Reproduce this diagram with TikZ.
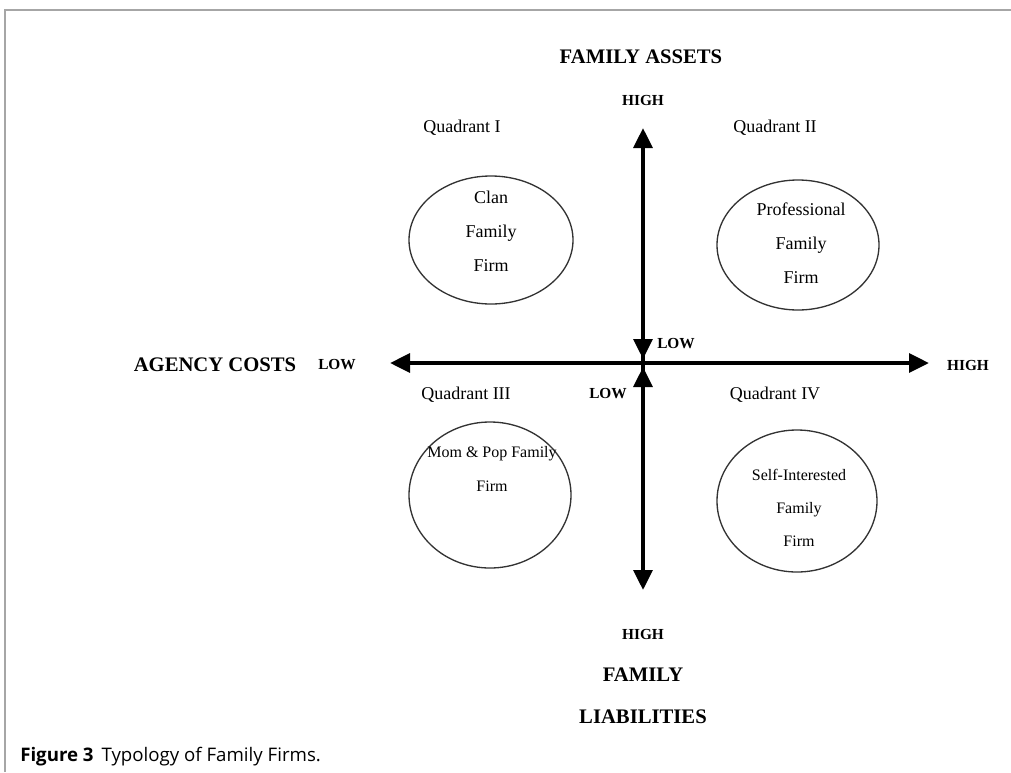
\documentclass[tikz,border=0pt]{standalone}
\usepackage{fontspec}
\setmainfont{Liberation Serif}
\newfontfamily\capfont{Open Sans}
\usetikzlibrary{arrows.meta,positioning,shapes.geometric}

\begin{document}
\begin{tikzpicture}[x=0.75pt,y=-0.75pt,
    axis/.style={line width=3pt,-{Triangle[length=15pt,width=14pt]}},
    firm/.style={ellipse,draw=black!80,line width=1pt,inner sep=0pt},
    title/.style={font=\fontsize{15.5}{18}\bfseries\selectfont},
    level/.style={font=\fontsize{11.5}{14}\bfseries\selectfont},
    quad/.style={font=\fontsize{13.5}{16}\selectfont},
    big/.style={font=\fontsize{13.5}{25.5}\selectfont,align=center},
    small/.style={font=\fontsize{12}{25}\selectfont,align=center}]
  \useasboundingbox (0,0) rectangle (1011,772);
  % frame
  \draw[gray!70,line width=1.5pt] (5,772) -- (5,10) -- (1011,10);

  % axes
  \coordinate (o) at (643,363);
  \coordinate (top) at (643,128);
  \coordinate (bot) at (643,590);
  \coordinate (left) at (390,363);
  \coordinate (right) at (929,363);
  \coordinate (otop) at (643,359);
  \coordinate (obot) at (643,367);
  \draw[axis] (o) -- (top);
  \draw[axis] (o) -- (otop |- 0,270) -- (otop);
  \draw[axis] (o) -- (bot);
  \draw[axis] (o) -- (otop |- 0,455) -- (obot);
  \draw[axis] (o) -- (left);
  \draw[axis] (o) -- (right);

  % axis labels
  \node[title] (assets) at (641,57) {FAMILY ASSETS};
  \node[level] (ahigh) at (643,100) {HIGH};
  \node[level] (alow) at (676,344) {LOW};
  \node[title] (agency) at (215,365) {AGENCY COSTS};
  \node[level] (clow) at (337,365) {LOW};
  \node[level] (chigh) at (968,365) {HIGH};
  \node[level] (llow) at (608,394) {LOW};
  \node[level] (lhigh) at (643,634) {HIGH};
  \node[title] (family) at (643,675) {FAMILY};
  \node[title] (liab) at (643,717) {LIABILITIES};

  % quadrants
  \node[quad] (q1lbl) at (462,128) {Quadrant I};
  \node[quad] (q2lbl) at (775,128) {Quadrant II};
  \node[quad] (q3lbl) at (466,395) {Quadrant III};
  \node[quad] (q4lbl) at (775,395) {Quadrant IV};

  \node[firm,minimum width=123pt,minimum height=96pt] (q1) at (491,240) {};
  \node[firm,minimum width=121.5pt,minimum height=97.5pt] (q2) at (798,245) {};
  \node[firm,minimum width=121.5pt,minimum height=109.5pt] (q3) at (490,495) {};
  \node[firm,minimum width=120pt,minimum height=106.5pt] (q4) at (797,501) {};

  \node[big] (clan) at (491,231) {Clan\\Family\\Firm};
  \node[big] (prof) at (801,243) {Professional\\Family\\Firm};
  \node[small] (mompop) at (492,469) {Mom \& Pop Family\\Firm};
  \node[small] (selfint) at (799,508) {Self-Interested\\Family\\Firm};

  % caption
  \node[anchor=west,inner sep=0pt,font=\capfont\fontsize{14}{17}\selectfont] (caption) at (20,757)
    {\textbf{Figure 3}\, Typology of Family Firms.};
\end{tikzpicture}
\end{document}
